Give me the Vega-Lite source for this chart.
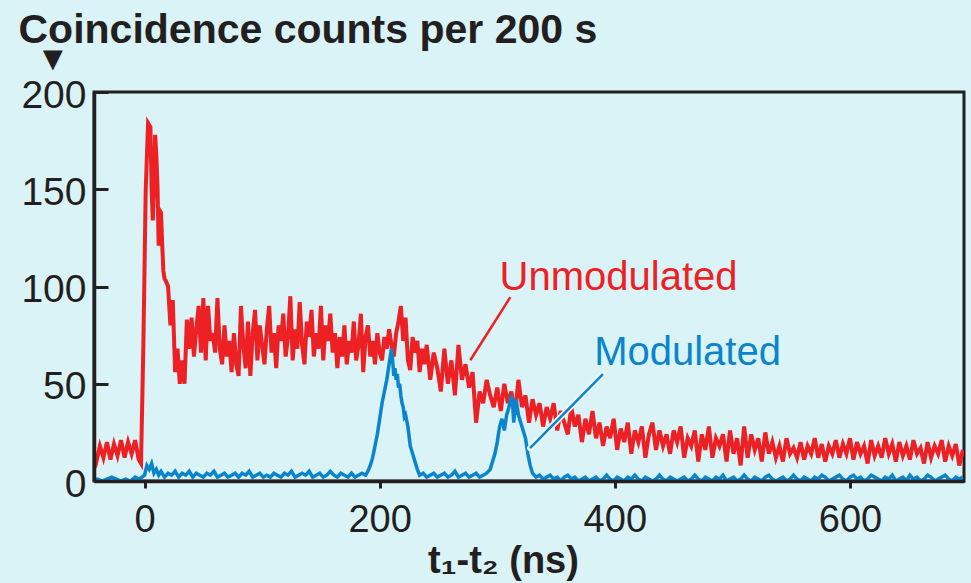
{
"$schema": "https://vega.github.io/schema/vega-lite/v6.json",
"width": 870, "height": 389,
"autosize": {"type": "none"},
"padding": {"left": 94, "top": 92, "right": 7, "bottom": 102},
"background": "#daf3f7",
"config": {"view": {"stroke": "#231f20", "strokeWidth": 3}, "font": "Liberation Sans"},
"title": {"text": "▼", "anchor": "start", "frame": "group", "dx": -58, "offset": -68, "fontSize": 34, "color": "#231f20", "font": "Liberation Sans"},
"datasets": {
"unmod": [
{"t":-44,"c":15},{"t":-41,"c":10},{"t":-38,"c":18},{"t":-35,"c":12},{"t":-32,"c":20},{"t":-29,"c":11},{"t":-26,"c":19},{"t":-23,"c":13},{"t":-20,"c":21},{"t":-17,"c":12},{"t":-14,"c":20},{"t":-11,"c":14},{"t":-8,"c":21},{"t":-5,"c":11},{"t":-3,"c":9},{"t":-1,"c":70},{"t":1,"c":150},{"t":3,"c":184},{"t":5,"c":182},{"t":6,"c":150},{"t":7,"c":134},{"t":8,"c":150},{"t":9,"c":178},{"t":10,"c":168},{"t":11,"c":152},{"t":12,"c":121},{"t":13,"c":139},{"t":14,"c":138},{"t":15,"c":122},{"t":16,"c":108},{"t":17,"c":104},{"t":18,"c":103},
{"t":20,"c":100},{"t":22,"c":80},{"t":24,"c":93},{"t":26,"c":56},{"t":28,"c":68},{"t":30,"c":50},{"t":32,"c":62},{"t":34,"c":50},{"t":36,"c":83},{"t":38,"c":68},{"t":40,"c":84},{"t":42,"c":64},{"t":44,"c":78},{"t":46,"c":90},{"t":48,"c":66},{"t":50,"c":94},{"t":52,"c":62},{"t":54,"c":90},{"t":56,"c":72},{"t":58,"c":76},{"t":60,"c":66},{"t":62,"c":94},{"t":64,"c":68},{"t":66,"c":60},{"t":68,"c":80},{"t":70,"c":64},{"t":72,"c":72},{"t":74,"c":56},{"t":76,"c":76},{"t":78,"c":60},{"t":80,"c":54},{"t":82,"c":90},{"t":84,"c":70},{"t":86,"c":58},{"t":88,"c":82},{"t":90,"c":54},{"t":92,"c":76},{"t":94,"c":88},{"t":96,"c":62},{"t":98,"c":80},{"t":100,"c":70},
{"t":102,"c":60},{"t":104,"c":78},{"t":106,"c":90},{"t":108,"c":66},{"t":110,"c":76},{"t":112,"c":58},{"t":114,"c":80},{"t":116,"c":72},{"t":118,"c":86},{"t":120,"c":64},{"t":122,"c":74},{"t":124,"c":95},{"t":126,"c":62},{"t":128,"c":78},{"t":130,"c":68},{"t":132,"c":92},{"t":134,"c":70},{"t":136,"c":60},{"t":138,"c":82},{"t":140,"c":74},{"t":142,"c":88},{"t":144,"c":64},{"t":146,"c":76},{"t":148,"c":68},{"t":150,"c":90},{"t":152,"c":62},{"t":154,"c":80},{"t":156,"c":72},{"t":158,"c":86},{"t":160,"c":66},{"t":162,"c":76},{"t":164,"c":58},{"t":166,"c":74},{"t":168,"c":64},{"t":170,"c":80},{"t":172,"c":60},{"t":174,"c":72},{"t":176,"c":66},{"t":178,"c":82},{"t":180,"c":62},{"t":182,"c":70},{"t":184,"c":86},{"t":186,"c":56},{"t":188,"c":74},{"t":190,"c":80},{"t":192,"c":64},{"t":194,"c":72},{"t":196,"c":60},{"t":198,"c":76},{"t":200,"c":66},
{"t":202,"c":62},{"t":204,"c":74},{"t":206,"c":68},{"t":208,"c":78},{"t":210,"c":70},{"t":212,"c":64},{"t":214,"c":76},{"t":216,"c":82},{"t":218,"c":90},{"t":220,"c":72},{"t":222,"c":84},{"t":224,"c":62},{"t":226,"c":57},{"t":228,"c":74},{"t":230,"c":66},{"t":232,"c":72},{"t":234,"c":56},{"t":236,"c":68},{"t":238,"c":60},{"t":240,"c":70},
{"t":243,"c":52},{"t":246,"c":66},{"t":249,"c":58},{"t":252,"c":46},{"t":255,"c":68},{"t":258,"c":50},{"t":261,"c":62},{"t":264,"c":44},{"t":267,"c":70},{"t":270,"c":52},{"t":273,"c":60},{"t":276,"c":48},{"t":279,"c":56},{"t":282,"c":30},{"t":285,"c":46},{"t":288,"c":40},{"t":291,"c":52},{"t":294,"c":44},{"t":297,"c":38},{"t":300,"c":48},{"t":303,"c":36},{"t":306,"c":50},{"t":309,"c":40},{"t":312,"c":46},{"t":315,"c":34},{"t":318,"c":52},{"t":321,"c":38},{"t":324,"c":44},{"t":327,"c":30},{"t":330,"c":42},{"t":333,"c":34},{"t":336,"c":40},{"t":339,"c":28},{"t":342,"c":38},{"t":345,"c":32},{"t":348,"c":40},{"t":351,"c":26},{"t":354,"c":36},{"t":357,"c":30},{"t":360,"c":24},{"t":363,"c":38},{"t":366,"c":28},{"t":369,"c":34},{"t":372,"c":20},{"t":375,"c":32},{"t":378,"c":24},{"t":381,"c":36},{"t":384,"c":22},{"t":387,"c":30},{"t":390,"c":18},{"t":393,"c":28},{"t":396,"c":22},{"t":399,"c":32},{"t":402,"c":16},{"t":405,"c":27},{"t":408,"c":20},{"t":411,"c":30},{"t":414,"c":14},{"t":417,"c":26},{"t":420,"c":20},{"t":423,"c":28},{"t":426,"c":12},{"t":429,"c":24},{"t":432,"c":30},{"t":435,"c":16},{"t":438,"c":26},{"t":441,"c":18},{"t":444,"c":24},{"t":447,"c":14},{"t":450,"c":26},{"t":453,"c":20},{"t":456,"c":28},{"t":459,"c":12},{"t":462,"c":22},{"t":465,"c":18},{"t":468,"c":26},{"t":471,"c":10},{"t":474,"c":24},{"t":477,"c":16},{"t":480,"c":28},{"t":483,"c":12},{"t":486,"c":22},{"t":489,"c":18},{"t":492,"c":24},{"t":495,"c":10},{"t":498,"c":26},{"t":501,"c":14},{"t":504,"c":22},{"t":507,"c":8},{"t":510,"c":28},{"t":513,"c":12},{"t":516,"c":24},{"t":519,"c":16},{"t":522,"c":22},{"t":525,"c":10},{"t":528,"c":25},{"t":531,"c":14},{"t":534,"c":20},{"t":537,"c":12},{"t":540,"c":18},{"t":543,"c":10},{"t":546,"c":22},{"t":549,"c":14},{"t":552,"c":17},{"t":555,"c":12},{"t":558,"c":20},{"t":561,"c":11},{"t":564,"c":18},{"t":567,"c":14},{"t":570,"c":22},{"t":573,"c":12},{"t":576,"c":19},{"t":579,"c":10},{"t":582,"c":18},{"t":585,"c":14},{"t":588,"c":21},{"t":591,"c":12},{"t":594,"c":19},{"t":597,"c":14},{"t":600,"c":22},{"t":603,"c":11},{"t":606,"c":20},{"t":609,"c":14},{"t":612,"c":18},{"t":615,"c":9},{"t":618,"c":21},{"t":621,"c":13},{"t":624,"c":18},{"t":627,"c":12},{"t":630,"c":22},{"t":633,"c":14},{"t":636,"c":19},{"t":639,"c":10},{"t":642,"c":20},{"t":645,"c":13},{"t":648,"c":18},{"t":651,"c":11},{"t":654,"c":21},{"t":657,"c":14},{"t":660,"c":17},{"t":663,"c":9},{"t":666,"c":20},{"t":669,"c":12},{"t":672,"c":18},{"t":675,"c":14},{"t":678,"c":21},{"t":681,"c":10},{"t":684,"c":18},{"t":687,"c":13},{"t":690,"c":19},{"t":693,"c":8},{"t":696,"c":16}
],
"mod": [
{"t":-44,"c":0},{"t":-40,"c":1},{"t":-36,"c":0},{"t":-32,"c":1},{"t":-28,"c":2},{"t":-24,"c":1},{"t":-20,"c":0},{"t":-16,"c":1},{"t":-12,"c":0},{"t":-8,"c":2},{"t":-5,"c":1},{"t":-2,"c":2},{"t":0,"c":3},{"t":2,"c":8},{"t":4,"c":6},{"t":6,"c":9},{"t":8,"c":4},{"t":10,"c":6},{"t":12,"c":3},{"t":14,"c":5},{"t":17,"c":2},{"t":20,"c":4},{"t":23,"c":3},{"t":26,"c":5},{"t":29,"c":2},{"t":32,"c":4},{"t":35,"c":3},{"t":38,"c":5},{"t":41,"c":2},{"t":44,"c":4},{"t":47,"c":3},{"t":50,"c":2},{"t":53,"c":4},{"t":56,"c":3},{"t":59,"c":5},{"t":62,"c":2},{"t":65,"c":3},{"t":68,"c":4},{"t":71,"c":2},{"t":74,"c":3},{"t":77,"c":4},{"t":80,"c":2},{"t":83,"c":4},{"t":86,"c":3},{"t":89,"c":5},{"t":92,"c":2},{"t":95,"c":3},{"t":98,"c":4},{"t":101,"c":2},{"t":104,"c":3},{"t":107,"c":2},{"t":110,"c":4},{"t":113,"c":3},{"t":116,"c":2},{"t":119,"c":4},{"t":122,"c":3},{"t":125,"c":5},{"t":128,"c":2},{"t":131,"c":3},{"t":134,"c":4},{"t":137,"c":3},{"t":140,"c":5},{"t":143,"c":2},{"t":146,"c":3},{"t":149,"c":4},{"t":152,"c":2},{"t":155,"c":3},{"t":158,"c":5},{"t":161,"c":3},{"t":164,"c":2},{"t":167,"c":4},{"t":170,"c":3},{"t":173,"c":2},{"t":176,"c":4},{"t":179,"c":2},{"t":182,"c":3},{"t":185,"c":4},{"t":188,"c":3},{"t":190,"c":5},{"t":192,"c":8},{"t":194,"c":12},{"t":196,"c":18},{"t":198,"c":24},{"t":200,"c":32},{"t":202,"c":40},{"t":204,"c":46},{"t":206,"c":52},{"t":208,"c":60},{"t":210,"c":68},{"t":211,"c":62},{"t":212,"c":54},{"t":213,"c":58},{"t":214,"c":52},{"t":215,"c":55},{"t":216,"c":48},{"t":217,"c":50},{"t":218,"c":44},{"t":219,"c":40},{"t":220,"c":38},{"t":221,"c":33},{"t":222,"c":34},{"t":224,"c":28},{"t":226,"c":18},{"t":228,"c":14},{"t":230,"c":10},{"t":232,"c":6},{"t":234,"c":3},{"t":237,"c":4},{"t":240,"c":2},{"t":243,"c":3},{"t":246,"c":4},{"t":249,"c":2},{"t":252,"c":3},{"t":255,"c":4},{"t":258,"c":2},{"t":261,"c":3},{"t":264,"c":5},{"t":267,"c":2},{"t":270,"c":3},{"t":273,"c":4},{"t":276,"c":2},{"t":279,"c":3},{"t":282,"c":4},{"t":285,"c":2},{"t":288,"c":3},{"t":291,"c":4},{"t":294,"c":6},{"t":296,"c":10},{"t":298,"c":14},{"t":300,"c":20},{"t":302,"c":28},{"t":304,"c":32},{"t":306,"c":26},{"t":308,"c":34},{"t":310,"c":38},{"t":312,"c":44},{"t":313,"c":40},{"t":314,"c":30},{"t":315,"c":36},{"t":316,"c":42},{"t":318,"c":34},{"t":320,"c":30},{"t":322,"c":26},{"t":324,"c":22},{"t":326,"c":14},{"t":328,"c":8},{"t":330,"c":4},{"t":333,"c":2},{"t":336,"c":3},{"t":339,"c":1},{"t":342,"c":2},{"t":345,"c":3},{"t":348,"c":1},{"t":351,"c":2},{"t":354,"c":0},{"t":357,"c":2},{"t":360,"c":3},{"t":363,"c":1},{"t":366,"c":2},{"t":369,"c":0},{"t":372,"c":1},{"t":375,"c":2},{"t":378,"c":0},{"t":381,"c":1},{"t":384,"c":2},{"t":387,"c":0},{"t":390,"c":1},{"t":393,"c":3},{"t":396,"c":1},{"t":399,"c":0},{"t":402,"c":2},{"t":405,"c":1},{"t":408,"c":0},{"t":411,"c":2},{"t":414,"c":1},{"t":417,"c":3},{"t":420,"c":1},{"t":423,"c":0},{"t":426,"c":2},{"t":429,"c":1},{"t":432,"c":0},{"t":435,"c":1},{"t":438,"c":3},{"t":441,"c":1},{"t":444,"c":0},{"t":447,"c":2},{"t":450,"c":1},{"t":453,"c":0},{"t":456,"c":1},{"t":459,"c":2},{"t":462,"c":0},{"t":465,"c":1},{"t":468,"c":3},{"t":471,"c":1},{"t":474,"c":0},{"t":477,"c":2},{"t":480,"c":1},{"t":483,"c":0},{"t":486,"c":2},{"t":489,"c":1},{"t":492,"c":3},{"t":495,"c":0},{"t":498,"c":1},{"t":501,"c":2},{"t":504,"c":0},{"t":507,"c":1},{"t":510,"c":3},{"t":513,"c":1},{"t":516,"c":0},{"t":519,"c":2},{"t":522,"c":1},{"t":525,"c":0},{"t":528,"c":2},{"t":531,"c":3},{"t":534,"c":1},{"t":537,"c":0},{"t":540,"c":1},{"t":543,"c":2},{"t":546,"c":0},{"t":549,"c":1},{"t":552,"c":3},{"t":555,"c":1},{"t":558,"c":0},{"t":561,"c":2},{"t":564,"c":1},{"t":567,"c":0},{"t":570,"c":2},{"t":573,"c":1},{"t":576,"c":3},{"t":579,"c":2},{"t":582,"c":0},{"t":585,"c":1},{"t":588,"c":2},{"t":591,"c":3},{"t":594,"c":1},{"t":597,"c":0},{"t":600,"c":2},{"t":603,"c":3},{"t":606,"c":1},{"t":609,"c":2},{"t":612,"c":0},{"t":615,"c":1},{"t":618,"c":3},{"t":621,"c":2},{"t":624,"c":1},{"t":627,"c":0},{"t":630,"c":2},{"t":633,"c":1},{"t":636,"c":3},{"t":639,"c":0},{"t":642,"c":1},{"t":645,"c":2},{"t":648,"c":0},{"t":651,"c":3},{"t":654,"c":1},{"t":657,"c":2},{"t":660,"c":0},{"t":663,"c":1},{"t":666,"c":3},{"t":669,"c":2},{"t":672,"c":0},{"t":675,"c":1},{"t":678,"c":2},{"t":681,"c":3},{"t":684,"c":1},{"t":687,"c":0},{"t":690,"c":2},{"t":693,"c":1},{"t":696,"c":2}
],
"leaders": [
{"s":"Unmodulated","t":311.1,"c":94.5,"t2":277.1,"c2":62.1},
{"s":"Modulated","t":389.9,"c":54.9,"t2":327.9,"c2":16.9}
],
"labels": [
{"s":"Unmodulated","t":302.0,"c":98.1},
{"s":"Modulated","t":382.4,"c":59.6}
]
},
"layer": [
{
"data": {"name": "unmod"},
"mark": {"type": "line", "color": "#ed2024", "strokeWidth": 4, "clip": true},
"encoding": {
"x": {"field": "t", "type": "quantitative", "scale": {"domain": [-43, 697], "nice": false, "zero": false},
 "axis": {"values": [0, 200, 400, 600], "grid": false, "zindex": 1, "domainColor": "#231f20", "domainWidth": 3.5, "tickColor": "#231f20", "tickWidth": 3, "tickSize": 7, "labelFontSize": 38, "labelColor": "#231f20", "labelFont": "Liberation Sans", "labelPadding": 13, "labelFlush": false, "labelOverlap": false,
  "title": "t₁-t₂ (ns)", "titleFontSize": 38, "titleFontWeight": "bold", "titleColor": "#231f20", "titleFont": "Liberation Sans", "titleX": 409, "titleY": 91, "titleAlign": "center", "titleBaseline": "alphabetic"}},
"y": {"field": "c", "type": "quantitative", "scale": {"domain": [0, 200], "nice": false},
 "axis": {"values": [0, 50, 100, 150, 200], "grid": false, "zindex": 1, "domainColor": "#231f20", "domainWidth": 3.5, "tickColor": "#231f20", "tickWidth": 3, "tickSize": -14, "labelFontSize": 39, "labelColor": "#231f20", "labelFont": "Liberation Sans", "labelPadding": 22, "labelOffset": 3, "labelFlush": false, "labelOverlap": false,
  "title": "Coincidence counts per 200 s", "titleFontSize": 41, "titleFontWeight": "bold", "titleColor": "#231f20", "titleFont": "Liberation Sans", "titleAngle": 0, "titleX": -76, "titleY": -50, "titleAlign": "left", "titleBaseline": "alphabetic"}}
}
},
{
"data": {"name": "mod"},
"mark": {"type": "line", "color": "#0a85cc", "strokeWidth": 3.5, "clip": true},
"encoding": {
"x": {"field": "t", "type": "quantitative"},
"y": {"field": "c", "type": "quantitative"}
}
},
{
"data": {"name": "leaders"},
"transform": [{"filter": "datum.s === 'Modulated'"}],
"mark": {"type": "rule", "color": "#eef6f8", "strokeWidth": 6, "strokeCap": "round"},
"encoding": {
"x": {"field": "t", "type": "quantitative"}, "y": {"field": "c", "type": "quantitative"},
"x2": {"field": "t2"}, "y2": {"field": "c2"}
}
},
{
"data": {"name": "leaders"},
"mark": {"type": "rule", "strokeWidth": 2.5},
"encoding": {
"x": {"field": "t", "type": "quantitative"}, "y": {"field": "c", "type": "quantitative"},
"x2": {"field": "t2"}, "y2": {"field": "c2"},
"color": {"field": "s", "type": "nominal", "scale": {"domain": ["Unmodulated", "Modulated"], "range": ["#ed2024", "#0a85cc"]}, "legend": null}
}
},
{
"data": {"name": "labels"},
"mark": {"type": "text", "align": "left", "baseline": "alphabetic", "fontSize": 40, "font": "Liberation Sans"},
"encoding": {
"x": {"field": "t", "type": "quantitative"}, "y": {"field": "c", "type": "quantitative"},
"text": {"field": "s"},
"color": {"field": "s", "type": "nominal", "scale": {"domain": ["Unmodulated", "Modulated"], "range": ["#ed2024", "#0a85cc"]}, "legend": null}
}
}
]
}
